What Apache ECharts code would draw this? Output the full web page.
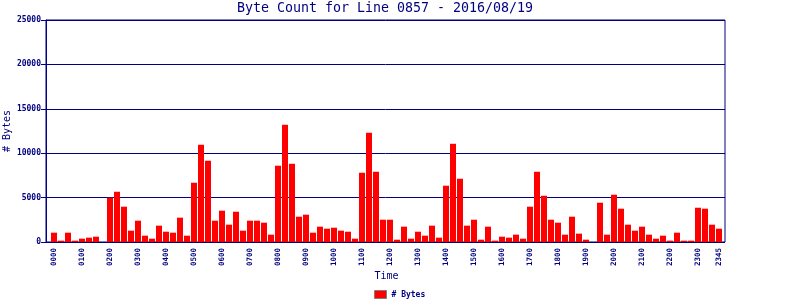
<!DOCTYPE html>
<html><head><meta charset="utf-8">
<script src="https://cdn.jsdelivr.net/npm/echarts@6/dist/echarts.min.js"></script>
<style>html,body{margin:0;padding:0;background:#fff}#c{width:800px;height:300px}</style>
</head><body><div id="c"></div>
<script>
const titleText = 'Byte Count for Line 0857 - 2016/08/19';
const seriesName = '# Bytes';
const times = [];
for (let h = 0; h < 24; h++) for (let m = 0; m < 60; m += 15)
  times.push(String(h).padStart(2,'0') + String(m).padStart(2,'0'));
const bytes = [
  1050,150,1050,150,375,490,600,0,
  4990,5660,3975,1275,2400,712,375,1840,
  1160,1050,2740,712,6675,10950,9150,2400,
  3525,1950,3410,1275,2400,2400,2175,825,
  8590,13200,8810,2850,3075,1050,1725,1500,
  1610,1275,1160,375,7800,12300,7910,2510,
  2510,262,1725,375,1160,712,1840,490,
  6340,11060,7125,1840,2510,262,1725,150,
  600,490,825,375,3975,7910,5210,2510,
  2175,825,2850,940,262,0,4425,825,
  5325,3750,1950,1275,1725,825,375,712,
  150,1050,150,150,3860,3750,1950,1500
];
const yTicks = [0, 5000, 10000, 15000, 20000, 25000];
const navy = '#000080';
const mono = 'DejaVu Sans Mono';
const chart = echarts.init(document.getElementById('c'), null, {renderer:'canvas'});
chart.setOption({
  animation: false,
  backgroundColor: '#fff',
  title: {text: titleText, left: 385, textAlign: 'center', top: 2, padding: 0,
    textStyle: {fontFamily: mono, fontSize: 13.3, fontWeight: 'normal', color: navy}},
  legend: {left: 374, top: 290, padding: 0, itemWidth: 12, itemHeight: 8, itemGap: 4, icon: 'rect',
    data: [{name: seriesName, itemStyle: {color: '#ff0000', borderColor: '#808080', borderWidth: 1}}],
    textStyle: {fontFamily: mono, fontSize: 8, fontWeight: 'bold', color: navy}},
  grid: [
    {left: 46, top: 20, width: 679, height: 222, show: true, borderColor: navy, borderWidth: 1,
      backgroundColor: 'transparent', containLabel: false, outerBoundsMode: 'none'},
    {left: 50.5, top: 20, width: 672, height: 222, containLabel: false, outerBoundsMode: 'none'}
  ],
  xAxis: [
    {gridIndex: 0, type: 'value', min: 0, max: 1, show: false},
    {gridIndex: 1, type: 'category', data: times,
      axisLine: {show: false}, axisTick: {show: false},
      axisLabel: {rotate: 90, margin: 6, fontFamily: mono, fontSize: 7.5, fontWeight: 'bold', color: navy,
        interval: (i) => i % 4 === 0 || i === times.length - 1},
      name: 'Time', nameLocation: 'middle', nameGap: 34.5, nameMoveOverlap: false,
      nameTextStyle: {fontFamily: mono, fontSize: 10, color: navy, verticalAlign: 'middle'}}
  ],
  yAxis: [
    {gridIndex: 0, type: 'value', min: yTicks[0], max: yTicks[yTicks.length-1], interval: 5000,
      axisLine: {show: true, lineStyle: {color: navy, width: 1}},
      axisTick: {show: true, length: 5, lineStyle: {color: navy}},
      axisLabel: {margin: 5, fontFamily: mono, fontSize: 8, fontWeight: 'bold', color: navy,
        formatter: (v) => String(v)},
      splitLine: {show: true, lineStyle: {color: navy, width: 1}},
      name: seriesName, nameLocation: 'middle', nameGap: 38.5, nameMoveOverlap: false,
      nameTextStyle: {fontFamily: mono, fontSize: 10, color: navy, verticalAlign: 'middle'}},
    {gridIndex: 1, type: 'value', min: 0, max: 25000, show: false}
  ],
  series: [{
    name: seriesName, type: 'bar', xAxisIndex: 1, yAxisIndex: 1,
    data: bytes, barWidth: 6, itemStyle: {color: '#ff0000'}
  }]
});
</script></body></html>
